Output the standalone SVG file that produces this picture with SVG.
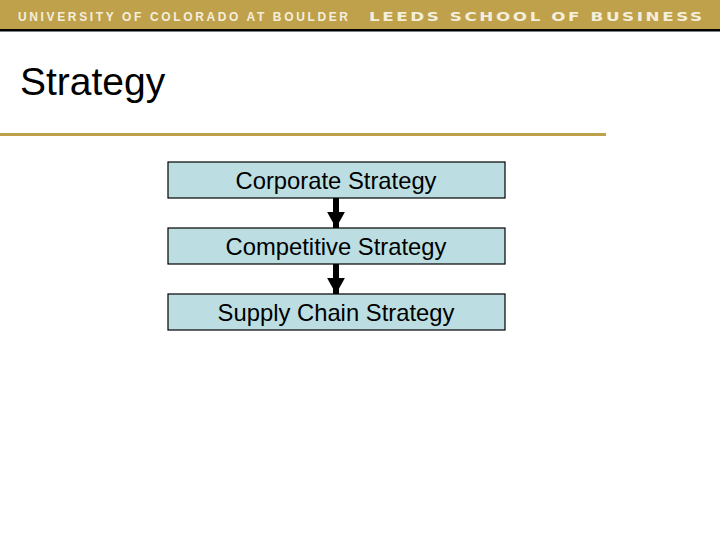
<svg xmlns="http://www.w3.org/2000/svg" width="720" height="540" viewBox="0 0 720 540">
<style>
.box{fill:#BCDEE3;stroke:#000;stroke-width:1.2}
.lbl{font-family:"Liberation Sans",Arial,sans-serif;font-size:23.8px;fill:#000;text-anchor:middle}
.hdr{font-weight:bold;fill:#F4EFDC}
</style>
<defs>
<marker id="ah" viewBox="0 0 10 10" refX="10" refY="5" markerWidth="2.7" markerHeight="3" orient="auto" markerUnits="strokeWidth" preserveAspectRatio="none">
<path d="M0,0 L10,5 L0,10 z" fill="#000"/>
</marker>
</defs>
<rect x="0" y="0" width="720" height="29" fill="#BFA14C"/>
<rect x="0" y="29" width="720" height="2.5" fill="#000"/>
<text class="hdr" x="18" y="21" font-family="Liberation Sans,Arial,sans-serif" font-size="12" textLength="330" lengthAdjust="spacing">UNIVERSITY OF COLORADO AT BOULDER</text>
<text class="hdr" transform="translate(369,21) scale(1.4,1)" x="0" y="0" font-family="DejaVu Sans,sans-serif" font-size="12" textLength="238" lengthAdjust="spacing">LEEDS SCHOOL OF BUSINESS</text>
<text x="20" y="95" font-family="Liberation Sans,Arial,sans-serif" font-size="39" fill="#000">Strategy</text>
<rect x="0" y="133" width="606" height="3" fill="#BFA14C"/>
<g id="connectors">
<line x1="336" y1="198" x2="336" y2="228" stroke="#000" stroke-width="6" marker-end="url(#ah)"/>
<line x1="336" y1="264" x2="336" y2="294" stroke="#000" stroke-width="6" marker-end="url(#ah)"/>
</g>
<g id="corporate">
<rect class="box" x="168" y="162" width="337" height="36"/>
<text class="lbl" x="336" y="189">Corporate Strategy</text>
</g>
<g id="competitive">
<rect class="box" x="168" y="228" width="337" height="36"/>
<text class="lbl" x="336" y="255">Competitive Strategy</text>
</g>
<g id="supplychain">
<rect class="box" x="168" y="294" width="337" height="36"/>
<text class="lbl" x="336" y="321">Supply Chain Strategy</text>
</g>
</svg>
